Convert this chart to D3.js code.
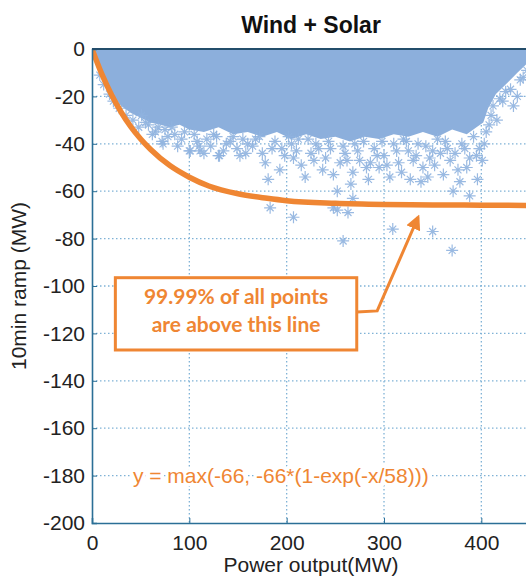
<!DOCTYPE html>
<html>
<head>
<meta charset="utf-8">
<script src="https://cdn.jsdelivr.net/npm/d3@7"></script>
<style>
  body { margin: 0; background: #fff; }
  text { font-family: "Liberation Sans", Arial, sans-serif; }
</style>
</head>
<body>
<div id="chart"></div>
<script>
// ---- data ----
const chartTitle = "Wind + Solar";
const xLabel = "Power output(MW)";
const yLabel = "10min ramp (MW)";
const xTicks = [0, 100, 200, 300, 400];
const yTicks = [0, -20, -40, -60, -80, -100, -120, -140, -160, -180, -200];

// lower edge of the dense cloud of points (everything above it is filled)
const cloudX = [0, 3, 6, 10, 15, 20, 30, 40, 50, 60, 70, 80, 90, 100, 115, 130, 145, 160, 175, 190, 205, 220, 235, 250, 265, 280, 295, 310, 325, 340, 355, 370, 385, 395, 402, 407, 415, 425, 437, 450];
const cloudY = [0, -4, -8, -12, -16, -19, -24, -27, -29, -31, -32, -33, -32, -34, -35, -33, -36, -35, -37, -35, -38, -36, -38, -37, -39, -37, -38, -36, -37, -35, -37, -34, -36, -33, -31, -25, -19, -15, -10, -5];

// scattered single points below the cloud
const ptsX = [8, 12, 18, 22, 28, 35, 42, 48, 51, 58, 65, 72, 73, 75, 85, 92, 100, 101, 105, 110, 111, 118, 125, 130, 131, 138, 145, 149, 152, 160, 168, 175, 181, 185, 193, 198, 205, 207, 212, 219, 225, 230, 237, 240, 245, 252, 255, 260, 268, 270, 275, 284, 286, 290, 295, 300, 306, 310, 315, 320, 325, 327, 330, 335, 340, 345, 347, 350, 355, 361, 365, 368, 371, 376, 380, 388, 388, 392, 398, 401, 405, 410, 419, 425, 437, 440, 447,
              55, 62, 68, 78, 82, 88, 95, 108, 115, 122, 128, 135, 142, 155, 158, 165, 172, 178, 188, 195, 202, 210, 215, 222, 228, 233, 243, 248, 258, 262, 266, 273, 279, 282, 293, 298, 303, 313, 318, 323, 333, 338, 343, 352, 358, 363, 373, 378, 383, 385, 395, 396, 403, 408, 412, 416, 422, 430, 433, 443,
              183, 207, 248, 252, 258, 263, 268, 309, 350, 370];
const ptsY = [-11, -15, -19, -22, -25, -28, -30, -33, -28, -32, -35, -39, -40, -34, -36, -38, -43, -43, -36, -41, -43, -38, -36, -45, -45, -40, -37, -42, -45, -40, -38, -44, -55, -42, -51, -45, -40, -46, -38, -54, -44, -40, -51, -46, -42, -60, -48, -44, -52, -40, -47, -55, -48, -42, -50, -45, -54, -40, -48, -38, -43, -55, -47, -40, -50, -54, -46, -43, -38, -53, -42, -47, -60, -51, -40, -46, -62, -37, -42, -47, -35, -28, -21, -18, -20, -13, -9,
              -31, -36, -33, -37, -33, -41, -35, -39, -44, -41, -37, -43, -39, -38, -44, -41, -37, -48, -39, -42, -37, -43, -49, -38, -47, -42, -39, -53, -41, -47, -57, -43, -39, -50, -45, -39, -49, -43, -52, -39, -45, -56, -41, -49, -44, -39, -44, -56, -42, -50, -45, -55, -40, -32, -24, -30, -22, -17, -24, -12,
              -67, -71, -67, -68, -81, -69, -63, -76, -77, -85];

// orange bound line, y = max(-66, -66*(1-exp(-x/58))), read at these x
const boundX = [0, 10, 20, 30, 40, 50, 60, 80, 100, 120, 150, 180, 200, 250, 300, 350, 400, 450];
const boundY = [0, -10.5, -19.3, -26.7, -32.9, -38.0, -42.3, -49.2, -54.1, -57.8, -61.1, -63.0, -64.0, -65.1, -65.6, -65.8, -65.9, -66.0];

const noteLines = ["99.99% of all points", "are above this line"];
const formula = "y = max(-66, -66*(1-exp(-x/58)))";

// ---- layout ----
const W = 526, H = 579;
const margin = { top: 49, right: -4, bottom: 56, left: 92 };
const orange = "#ef8633";

const svg = d3.select("#chart").append("svg")
  .attr("width", W).attr("height", H);

const x = d3.scaleLinear().domain([0, 450]).range([margin.left, W - margin.right]);
const y = d3.scaleLinear().domain([-200, 0]).range([H - margin.bottom, margin.top]);

svg.append("clipPath").attr("id", "plotclip")
  .append("rect")
  .attr("x", x(0)).attr("y", y(0))
  .attr("width", x(450) - x(0)).attr("height", y(-200) - y(0));

// grid, dotted
const grid = svg.append("g");
grid.selectAll(".gx").data(xTicks.slice(1)).enter().append("line")
  .attr("x1", d => x(d)).attr("x2", d => x(d))
  .attr("y1", y(0)).attr("y2", y(-200))
  .attr("stroke", "#7fb2d6").attr("stroke-width", 1.3).attr("stroke-dasharray", "1.5,2.5");
grid.selectAll(".gy").data(yTicks.slice(1, -1)).enter().append("line")
  .attr("y1", d => y(d)).attr("y2", d => y(d))
  .attr("x1", x(0)).attr("x2", x(450))
  .attr("stroke", "#7fb2d6").attr("stroke-width", 1.3).attr("stroke-dasharray", "1.5,2.5");

const plot = svg.append("g").attr("clip-path", "url(#plotclip)");

// dense cloud
const cloud = cloudX.map((d, i) => [d, cloudY[i]]);
const area = d3.area()
  .x(d => x(d[0]))
  .y0(y(0))
  .y1(d => y(d[1]))
  .curve(d3.curveLinear);
plot.append("path").datum(cloud)
  .attr("d", area)
  .attr("fill", "#8cafdc");

// star markers
const star = "M-6,0H6M0,-6V6M-3.5,-3.5L3.5,3.5M-3.5,3.5L3.5,-3.5";
plot.selectAll(".pt").data(ptsX.map((d, i) => [d, ptsY[i]])).enter().append("path")
  .attr("d", star)
  .attr("transform", d => `translate(${x(d[0])},${y(d[1])})`)
  .attr("fill", "none")
  .attr("stroke", "#8fb2df")
  .attr("stroke-opacity", 0.9)
  .attr("stroke-width", 1.2);

// bound line
const bound = boundX.map((d, i) => [d, boundY[i]]);
plot.append("path").datum(bound)
  .attr("d", d3.line().x(d => x(d[0])).y(d => y(d[1])).curve(d3.curveMonotoneX))
  .attr("fill", "none")
  .attr("stroke", orange)
  .attr("stroke-width", 5.5);

// axes
const xAxis = svg.append("g")
  .attr("transform", `translate(0,${y(-200)})`)
  .call(d3.axisBottom(x).tickValues(xTicks).tickSize(-5).tickPadding(12).tickFormat(d3.format("d")));
const yAxis = svg.append("g")
  .attr("transform", `translate(${x(0)},0)`)
  .call(d3.axisLeft(y).tickValues(yTicks).tickSize(-5).tickPadding(7).tickFormat(d => d === 0 ? "0" : "-" + Math.abs(d)));
[xAxis, yAxis].forEach(g => {
  g.select(".domain").attr("stroke", "#2b6f96").attr("stroke-width", 1.6);
  g.selectAll(".tick line").attr("stroke", "#2b6f96");
  g.selectAll(".tick text").attr("fill", "#222").style("font-size", "21px");
});
xAxis.selectAll(".tick text").attr("dy", "0.71em");

// top frame line
svg.append("line")
  .attr("x1", x(0)).attr("x2", W)
  .attr("y1", y(0)).attr("y2", y(0))
  .attr("stroke", "#234d6b").attr("stroke-width", 1.8);

// title and labels
svg.append("text")
  .attr("x", 311).attr("y", 33)
  .attr("text-anchor", "middle")
  .style("font-size", "23px").style("font-weight", "bold")
  .attr("fill", "#111")
  .text(chartTitle);
svg.append("text")
  .attr("x", 311).attr("y", 572)
  .attr("text-anchor", "middle")
  .style("font-size", "21px")
  .attr("fill", "#222")
  .text(xLabel);
svg.append("text")
  .attr("transform", `translate(26,${(y(0) + y(-200)) / 2}) rotate(-90)`)
  .attr("text-anchor", "middle")
  .style("font-size", "21px")
  .attr("fill", "#222")
  .text(yLabel);

// annotation box + arrow
const note = svg.append("g");
note.append("rect")
  .attr("x", x(24)).attr("y", y(-96.5))
  .attr("width", x(272) - x(24)).attr("height", y(-127) - y(-96.5))
  .attr("fill", "#fff")
  .attr("stroke", orange).attr("stroke-width", 3);
note.selectAll(".nl").data(noteLines).enter().append("text")
  .attr("x", (x(24) + x(272)) / 2)
  .attr("y", (d, i) => y(-107.5) + i * 28)
  .attr("text-anchor", "middle")
  .style("font-family", "Lato, 'Noto Sans', sans-serif")
  .style("font-size", "21px").style("font-weight", "bold")
  .attr("fill", orange)
  .text(d => d);

const arrowPts = [[272, -111], [293, -110.5], [335, -71]];
svg.append("defs").append("marker")
  .attr("id", "head").attr("viewBox", "0 0 10 10")
  .attr("refX", 8).attr("refY", 5)
  .attr("markerWidth", 5).attr("markerHeight", 5)
  .attr("orient", "auto")
  .append("path").attr("d", "M0,0L10,5L0,10z").attr("fill", orange);
note.append("path")
  .attr("d", d3.line().x(d => x(d[0])).y(d => y(d[1]))(arrowPts))
  .attr("fill", "none").attr("stroke", orange).attr("stroke-width", 3)
  .attr("marker-end", "url(#head)");

// formula
svg.append("text")
  .attr("x", x(42)).attr("y", y(-180))
  .attr("dy", "0.35em")
  .style("font-size", "21px")
  .attr("fill", orange)
  .attr("stroke", "#fff").attr("stroke-width", 6).attr("paint-order", "stroke")
  .text(formula);
</script>
</body>
</html>
